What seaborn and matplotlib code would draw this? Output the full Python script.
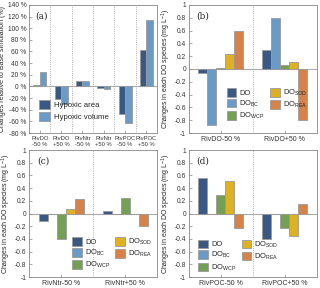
import pandas as pd
import matplotlib.pyplot as plt
import seaborn as sns

# panel (a)
scen_a = ["RivDO\n-50 %", "RivDO\n+50 %", "RivNtr\n-50 %", "RivNtr\n+50 %", "RivPOC\n-50 %", "RivPOC\n+50 %"]
hyp_area = [2, -22, 10, -3, -48, 63]
hyp_volume = [25, -30, 10, -5, -63, 114]

# panels (b)-(d)
species = ["DO", "DO$_{\\mathregular{BC}}$", "DO$_{\\mathregular{WCP}}$", "DO$_{\\mathregular{SOD}}$", "DO$_{\\mathregular{REA}}$"]
scen_b = ["RivDO-50 %", "RivDO+50 %"]
vals_b_minus = [-0.07, -0.88, 0.02, 0.23, 0.60]
vals_b_plus = [0.30, 0.80, 0.06, 0.11, -0.80]
scen_c = ["RivNtr-50 %", "RivNtr+50 %"]
vals_c_minus = [-0.12, 0.0, -0.40, 0.07, 0.23]
vals_c_plus = [0.04, 0.0, 0.24, -0.01, -0.19]
scen_d = ["RivPOC-50 %", "RivPOC+50 %"]
vals_d_minus = [0.56, 0.0, 0.29, 0.51, -0.22]
vals_d_plus = [-0.40, 0.0, -0.22, -0.35, 0.15]

sp_colors = ["#2c5790", "#5b9bd5", "#70ad47", "#ffc000", "#ed7d31"]
hyp_colors = ["#2c5790", "#5b9bd5"]

sns.set_style("ticks")
plt.rcParams['font.family'] = ['Liberation Sans', 'DejaVu Sans']
plt.rcParams['mathtext.fontset'] = 'custom'
plt.rcParams['mathtext.rm'] = 'Liberation Sans'
plt.rcParams['axes.edgecolor'] = '#888888'
plt.rcParams['xtick.color'] = '#888888'
plt.rcParams['ytick.color'] = '#888888'
plt.rcParams['xtick.labelcolor'] = '#333333'
plt.rcParams['ytick.labelcolor'] = '#333333'

fig = plt.figure(figsize=(3.2, 2.88), dpi=100)


def style_axes(ax, ncat):
    for s in ax.spines.values():
        s.set_visible(True)
        s.set_linewidth(0.6)
    ax.tick_params(direction='in', length=2, width=0.5, labelsize=4.8, pad=2)
    ax.axhline(0, color='#aaaaaa', lw=0.8, zorder=0)
    for k in range(ncat - 1):
        ax.axvline(k + 0.5, color='#999999', lw=0.6, ls=':', zorder=0)
    ax.set_xlim(-0.5, ncat - 0.5)
    ax.set_xlabel("")


# (a)
ax = fig.add_axes([0.091, 0.538, 0.4, 0.445])
df_a = pd.DataFrame({
    "scen": scen_a * 2,
    "val": hyp_area + hyp_volume,
    "var": ["Hypoxic area"] * 6 + ["Hypoxic volume"] * 6,
})
sns.barplot(data=df_a, x="scen", y="val", hue="var", palette=hyp_colors, width=0.6,
            edgecolor="#9a9a9a", linewidth=0.6, ax=ax)
style_axes(ax, 6)
ax.set_ylim(-80, 140)
ax.set_yticks(range(-80, 141, 20))
ax.set_yticklabels([f"{v} %" for v in range(-80, 141, 20)])
ax.tick_params(axis='x', labelsize=4.2, pad=2)
ax.set_ylabel("Changes relative to Base simulation (%)", fontsize=5.0, labelpad=1)
ax.text(0.05, 0.95, "(a)", transform=ax.transAxes, fontsize=6.5, family='serif', va='top')
ax.legend(loc='lower left', bbox_to_anchor=(0.04, 0.06), frameon=False, fontsize=5.6,
          handlelength=1.4, handleheight=1.4, borderaxespad=0.2, labelspacing=0.3, handletextpad=0.5)

panels = [
    ("(b)", scen_b, vals_b_minus, vals_b_plus, [0.59, 0.538, 0.4, 0.445], 'lower left', (0.26, 0.06)),
    ("(c)", scen_c, vals_c_minus, vals_c_plus, [0.091, 0.038, 0.4, 0.441], 'lower right', (1.0, 0.02)),
    ("(d)", scen_d, vals_d_minus, vals_d_plus, [0.59, 0.038, 0.4, 0.441], 'lower left', (0.04, 0.0)),
]
for tag, scen, v1, v2, pos, lloc, lpos in panels:
    ax = fig.add_axes(pos)
    df = pd.DataFrame({
        "scen": [scen[0]] * 5 + [scen[1]] * 5,
        "val": v1 + v2,
        "sp": species * 2,
    })
    sns.barplot(data=df, x="scen", y="val", hue="sp", hue_order=species, palette=sp_colors,
                width=0.7, edgecolor="#9a9a9a", linewidth=0.6, ax=ax)
    style_axes(ax, 2)
    ax.set_ylim(-1, 1)
    ticks = [round(-1 + 0.2 * i, 1) for i in range(11)]
    ax.set_yticks(ticks)
    ax.set_yticklabels([f"{t:g}" for t in ticks])
    ax.set_ylabel("Changes in each DO species (mg L$^{-1}$)", fontsize=5.0, labelpad=1)
    ax.tick_params(axis='x', labelsize=5.0)
    ax.text(0.06, 0.95, tag, transform=ax.transAxes, fontsize=6.5, family='serif', va='top')
    ax.legend(loc=lloc, bbox_to_anchor=lpos, ncol=2, frameon=False, fontsize=5.4,
              handlelength=1.3, handleheight=1.4, borderaxespad=0.2, labelspacing=0.25,
              handletextpad=0.4, columnspacing=0.7)

plt.savefig("out.png", dpi=100)
